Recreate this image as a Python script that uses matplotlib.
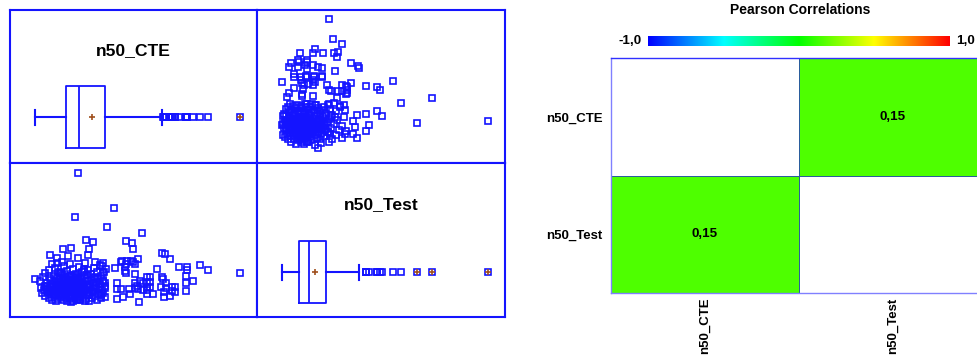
import numpy as np
import matplotlib
matplotlib.use("Agg")
import matplotlib.pyplot as plt
from matplotlib.colors import LinearSegmentedColormap

plt.rcParams['font.family'] = ['Liberation Sans', 'DejaVu Sans']

# ---------------- data ----------------
variables = ["n50_CTE", "n50_Test"]

# scattered / outlying observations
n50_cte_outer = [5.33, 8.93, 5.03, 8.23, 11.7, 6.13, 6.83, 10.17, 10.77, 10.87,
                 6.43, 4.6, 3.77, 6.27, 4.33, 2.53, 3.2, 5.33, 11.3, 13.77,
                 14.03, 14.5, 9.7, 10.23, 10.87, 7.83, 13.2, 15.47, 16.27, 16.2,
                 17.53, 18.37, 21.53, 1.0, 1.97, 1.97, 10.03, 10.03, 11.0, 16.17,
                 16.17, 16.17, 16.8, 13.77, 13.87, 13.6, 14.17, 14.77, 15.07, 14.77,
                 15.07, 13.9, 13.9, 14.5, 12.83, 12.23, 11.43, 12.23, 12.5, 12.23,
                 12.5, 12.23, 12.5, 11.83, 11.83, 10.5, 9.8, 9.2, 10.4, 11.07,
                 11.33, 10.1, 10.17, 11.0, 10.67, 9.67, 9.0, 11.5, 11.27, 11.07,
                 9.27, 9.67, 9.27, 14.17, 12.23, 3.17, 3.67, 2.67, 2.0]
n50_test_outer = [14.17, 10.67, 9.73, 8.73, 8.2, 7.5, 7.23, 7.4, 7.2, 6.53,
                  6.53, 6.67, 6.53, 5.93, 5.83, 5.97, 5.67, 5.67, 5.57, 6.1,
                  6.0, 5.57, 5.3, 5.3, 5.27, 5.13, 4.57, 4.7, 4.73, 4.47,
                  4.97, 4.43, 4.17, 3.5, 4.17, 2.77, 4.73, 4.3, 4.03, 3.83,
                  3.17, 2.37, 3.33, 3.77, 3.5, 2.77, 2.67, 2.77, 2.77, 2.27,
                  2.23, 2.23, 1.67, 1.8, 1.97, 1.97, 1.23, 3.73, 3.73, 3.23,
                  3.23, 2.73, 2.73, 3.17, 2.4, 2.0, 1.67, 1.53, 2.57, 3.17,
                  2.5, 5.0, 4.17, 5.0, 5.33, 5.23, 4.67, 3.33, 2.83, 2.6,
                  2.5, 2.5, 3.17, 3.17, 2.4, 5.17, 5.23, 5.0, 2.83]

# dense core of observations
n50_cte_core = [2.4, 3.0, 3.5, 3.9, 4.2, 4.5, 4.8, 5.1, 5.4, 5.7, 6.0, 6.3, 6.6, 6.9, 7.2, 7.5, 7.8, 8.1,
                7.95, 7.7, 4.0, 5.9, 3.3, 7.0,
                1.5, 1.8, 2.2, 2.5, 2.7, 2.9, 3.0, 3.2, 3.3, 3.4, 3.5, 3.6, 3.7, 3.8, 3.9, 4.0, 2.6,
                4.1, 4.2, 4.3, 4.4, 4.5, 4.6, 4.7, 4.8, 4.9, 5.0, 5.05, 5.1, 5.2, 5.25, 5.3, 5.35,
                5.4, 4.35, 4.65,
                5.5, 5.6, 5.8, 5.9, 6.1, 6.3, 6.4, 6.6, 6.8, 7.0, 7.1, 7.3, 7.5, 7.6, 7.8, 8.0, 6.2,
                6.9, 7.85,
                1.6, 1.9, 2.1, 2.3, 2.5, 2.6, 2.8, 2.9, 3.0, 3.1, 3.2, 3.3, 3.45, 3.55, 3.65, 3.75,
                3.85, 3.95,
                4.1, 4.15, 4.25, 4.35, 4.45, 4.55, 4.6, 4.7, 4.8, 4.9, 4.95, 5.0, 5.05, 5.15, 5.2,
                5.25, 5.3, 5.35, 5.4, 5.45,
                5.55, 5.7, 5.85, 6.0, 6.2, 6.35, 6.5, 6.7, 6.9, 7.1, 7.3, 7.5, 7.75, 8.0, 8.05,
                1.7, 2.0, 2.2, 2.4, 2.5, 2.7, 2.8, 2.9, 3.0, 3.1, 3.2, 3.3, 3.4, 3.5, 3.6, 3.7, 3.8,
                3.9, 4.0,
                4.1, 4.15, 4.2, 4.3, 4.4, 4.5, 4.55, 4.65, 4.75, 4.8, 4.9, 5.0, 5.05, 5.1, 5.2,
                5.25, 5.3, 5.35, 5.4, 5.45, 4.6,
                5.5, 5.65, 5.8, 5.95, 6.1, 6.25, 6.4, 6.55, 6.7, 6.85, 7.0, 7.2, 7.4, 7.6, 7.8,
                8.0, 6.05, 7.65,
                4.7, 5.6, 3.6, 6.4, 4.4, 5.9]
n50_test_core = [4.4, 4.6, 4.1, 4.8, 4.3, 5.0, 4.5, 4.05, 4.7, 4.2, 5.1, 4.4, 4.0, 4.6, 4.25, 4.9, 4.1, 4.5,
                 4.2, 4.85, 4.0, 4.55, 4.25, 5.2,
                 3.3, 3.7, 3.1, 3.6, 3.0, 3.85, 3.35, 2.95, 3.7, 3.2, 3.5, 3.05, 3.9, 3.4, 3.15, 3.65, 3.45,
                 3.0, 3.55, 3.25, 3.8, 3.1, 3.45, 2.95, 3.7, 3.3, 3.9, 3.05, 3.5, 3.2, 3.75, 2.98, 3.4,
                 3.6, 3.35, 3.85,
                 3.15, 3.55, 3.0, 3.8, 3.3, 3.6, 2.95, 3.45, 3.1, 3.75, 3.25, 3.5, 3.0, 3.85, 3.35, 3.1, 3.9,
                 3.6, 3.3,
                 2.6, 2.4, 2.85, 2.5, 2.7, 2.35, 2.8, 2.45, 2.65, 2.32, 2.88, 2.55, 2.75, 2.4, 2.6, 2.85,
                 2.45, 2.7,
                 2.55, 2.85, 2.35, 2.7, 2.45, 2.8, 2.6, 2.38, 2.75, 2.5, 2.9, 2.65, 2.4, 2.8, 2.55,
                 2.33, 2.72, 2.48, 2.86, 2.6,
                 2.5, 2.8, 2.4, 2.65, 2.9, 2.45, 2.7, 2.35, 2.6, 2.85, 2.5, 2.75, 2.4, 2.65, 2.8,
                 2.1, 1.8, 2.25, 1.6, 2.0, 1.4, 2.2, 1.75, 1.95, 1.3, 2.15, 1.55, 1.9, 2.28, 1.7, 2.05, 1.45,
                 1.85, 2.2,
                 1.65, 2.0, 1.35, 2.25, 1.8, 1.5, 2.1, 1.7, 1.95, 1.28, 2.2, 1.6, 1.9, 2.28, 1.45,
                 2.05, 1.75, 1.55, 2.15, 1.85, 1.25,
                 1.4, 2.0, 1.7, 2.25, 1.5, 1.9, 1.35, 2.1, 1.65, 2.2, 1.8, 1.45, 2.05, 1.6, 2.15,
                 1.75, 1.3, 1.9,
                 2.2, 2.7, 4.1, 1.95, 2.6, 4.3]

corr_values = [[1.0, 0.15],
               [0.15, 1.0]]
cbar_min, cbar_max = -1.0, 1.0
heatmap_title = "Pearson Correlations"

n50_cte = np.array(n50_cte_outer + n50_cte_core)
n50_test = np.array(n50_test_outer + n50_test_core)

# ---------------- styling ----------------
BLUE = '#1414ff'
BROWN = '#a0501e'
W, H = 977, 358
fig = plt.figure(figsize=(W / 100, H / 100), dpi=100)


def px_axes(x0, y0, x1, y1):
    return fig.add_axes([x0 / W, 1 - y1 / H, (x1 - x0) / W, (y1 - y0) / H])


def frame(ax, color=BLUE, lw=1.5):
    ax.set_xticks([])
    ax.set_yticks([])
    for s in ax.spines.values():
        s.set_color(color)
        s.set_linewidth(lw)


def lims(v, lo, hi):
    mn, mx = float(np.min(v)), float(np.max(v))
    r = mx - mn
    return mn - lo * r, mx + hi * r


marker_kw = dict(marker='s', linestyle='none', mfc='none', mec=BLUE, ms=5, mew=1.2)


def draw_box(ax, vals, ypos, height, capw, xlim, title, title_y):
    ax.boxplot(vals, orientation='horizontal', positions=[ypos], widths=height, whis=1.5,
               showmeans=True, capwidths=capw,
               boxprops=dict(color=BLUE, lw=1.3),
               whiskerprops=dict(color=BLUE, lw=1.5),
               capprops=dict(color=BLUE, lw=1.5),
               medianprops=dict(color=BLUE, lw=1.3),
               meanprops=dict(marker='+', markeredgecolor=BROWN, markersize=5, mew=1.2),
               flierprops=dict(marker='s', mfc='none', mec=BLUE, ms=5, mew=1.2))
    q1, q3 = np.percentile(vals, [25, 75])
    iqr = q3 - q1
    ext = [v for v in vals if v > q3 + 3 * iqr or v < q1 - 3 * iqr]
    ax.plot(ext, [ypos] * len(ext), '+', color=BROWN, ms=4.5, mew=1.2)
    ax.set_ylim(0, 1)
    ax.set_xlim(xlim)
    ax.text(0.5, title_y, title, transform=ax.transAxes, ha='center', va='center',
            fontsize=12.6, fontweight='bold')
    frame(ax)


cte_x = lims(n50_cte, 0.122, 0.084)
test_x = lims(n50_test, 0.122, 0.084)

ax11 = px_axes(10, 10, 257, 163)
ax12 = px_axes(257, 10, 505, 163)
ax21 = px_axes(10, 163, 257, 317)
ax22 = px_axes(257, 163, 505, 317)

draw_box(ax11, n50_cte, 0.30, 0.41, 0.098, cte_x, variables[0], 0.734)
draw_box(ax22, n50_test, 0.292, 0.40, 0.097, test_x, variables[1], 0.727)

ax12.plot(n50_test, n50_cte, **marker_kw)
ax12.set_xlim(test_x)
ax12.set_ylim(lims(n50_cte, 0.116, 0.07))
frame(ax12)

ax21.plot(n50_cte, n50_test, **marker_kw)
ax21.set_xlim(cte_x)
ax21.set_ylim(lims(n50_test, 0.118, 0.08))
frame(ax21)

# ---------------- correlation heatmap ----------------
cmap = LinearSegmentedColormap.from_list(
    'bcgyr', ['#0000ff', '#00ffff', '#00ff00', '#ffff00', '#ff0000'])
cmap.set_bad('white')

corr = np.array(corr_values)
mask = np.eye(len(variables), dtype=bool)
masked = np.ma.array(corr, mask=mask)

axh = px_axes(611, 58.3, 987, 293)
axh.pcolormesh(masked, cmap=cmap, vmin=cbar_min, vmax=cbar_max,
               edgecolors='#2a5d9c', linewidth=0.7)
axh.set_xlim(0, len(variables))
axh.set_ylim(len(variables), 0)
for i in range(len(variables)):
    for j in range(len(variables)):
        if i != j:
            axh.text(j + 0.5, i + 0.5, f"{corr[i, j]:.2f}".replace('.', ','),
                     ha='center', va='center', fontsize=9.6, fontweight='bold')
axh.set_xticks(np.arange(len(variables)) + 0.5)
axh.set_yticks(np.arange(len(variables)) + 0.5)
axh.set_xticklabels(variables, rotation=90, fontsize=9.5, fontweight='bold')
axh.set_yticklabels(variables, fontsize=9.5, fontweight='bold')
axh.tick_params(length=0)
axh.tick_params(axis='y', pad=6)
axh.tick_params(axis='x', pad=3.5)
for name, s in axh.spines.items():
    s.set_color('#3030ff' if name in ('top', 'right') else '#8080ff')
    s.set_linewidth(1.0)

# colorbar
axc = px_axes(648, 36, 950, 46)
grad = np.linspace(cbar_min, cbar_max, 512)[None, :]
axc.imshow(grad, cmap=cmap, aspect='auto', vmin=cbar_min, vmax=cbar_max)
axc.set_axis_off()
fig.text(642 / W, 1 - 41 / H, f"{cbar_min:.1f}".replace('.', ','), ha='right', va='center',
         fontsize=9.7, fontweight='bold')
fig.text(956 / W, 1 - 41 / H, f"{cbar_max:.1f}".replace('.', ','), ha='left', va='center',
         fontsize=9.7, fontweight='bold')
fig.text(800 / W, 1 - 10.5 / H, heatmap_title, ha='center', va='center',
         fontsize=10, fontweight='bold')

fig.savefig('out.png', dpi=100)
